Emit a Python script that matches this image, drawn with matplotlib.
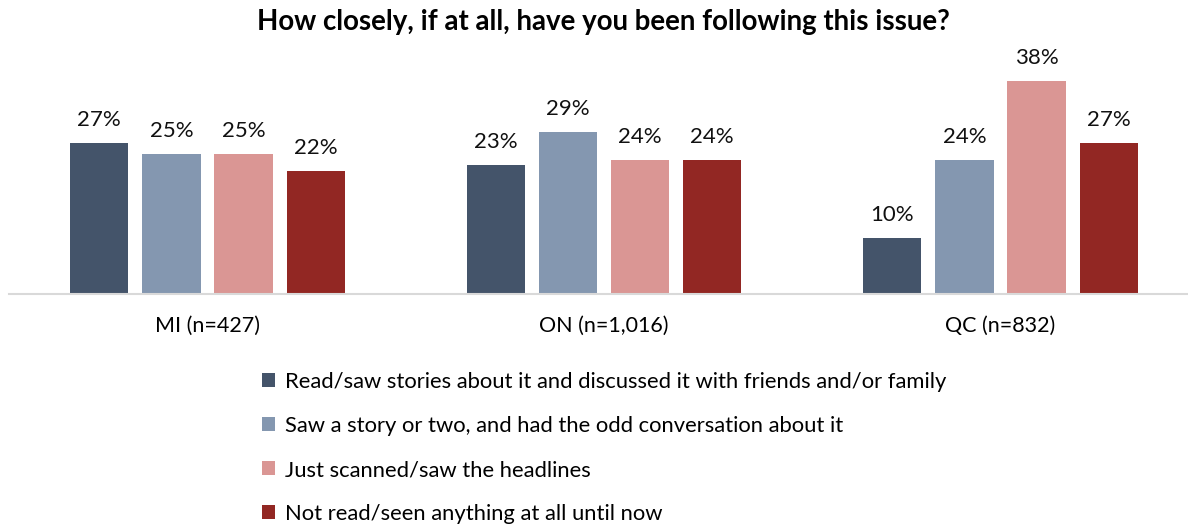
import numpy as np
import matplotlib
matplotlib.use('Agg')
import matplotlib.pyplot as plt

plt.rcParams['font.family'] = ['Lato', 'DejaVu Sans']

regions = ['MI (n=427)', 'ON (n=1,016)', 'QC (n=832)']
series_names = [
    'Read/saw stories about it and discussed it with friends and/or family',
    'Saw a story or two, and had the odd conversation about it',
    'Just scanned/saw the headlines',
    'Not read/seen anything at all until now',
]
read_discussed = [27, 23, 10]
saw_story = [25, 29, 24]
just_headlines = [25, 24, 38]
not_read = [22, 24, 27]
colors = ['#44546A', '#8497B0', '#DA9694', '#922723']

values = [read_discussed, saw_story, just_headlines, not_read]

fig = plt.figure(figsize=(11.88, 5.25), dpi=100)
ax = fig.add_axes([9.25 / 1188, 231 / 525, 1189.5 / 1188, 224 / 525])

x = np.arange(len(regions))
step = 0.182
width = 0.147
bars = []
for i, (vals, name, c) in enumerate(zip(values, series_names, colors)):
    b = ax.bar(x + (i - 1.5) * step, vals, width=width, color=c, label=name)
    bars.append(b)
    for rect, v in zip(b, vals):
        ax.text(rect.get_x() + rect.get_width() / 2, v + 2.3, f'{v}%',
                ha='center', va='bottom', fontsize=16, color='#111111')

ax.set_xlim(-0.5, 2.5)
ax.set_ylim(0, 40)
ax.set_xticks(x)
ax.set_xticklabels(regions, fontsize=15.5)
ax.tick_params(axis='x', length=0, pad=16)
ax.set_yticks([])
for s in ['top', 'left', 'right']:
    ax.spines[s].set_visible(False)
ax.spines['bottom'].set_color('#d9d9d9')
ax.spines['bottom'].set_linewidth(1.5)

fig.text(603 / 1188, 1 - 22 / 525, 'How closely, if at all, have you been following this issue?',
         ha='center', va='center', fontsize=19.9, fontweight='bold')

fig.legend(handles=bars, labels=series_names, loc='upper left',
           bbox_to_anchor=(242 / 1188, 1 - 352 / 525), frameon=False,
           fontsize=15.8, handlelength=0.6, handleheight=0.6,
           handletextpad=0.45, labelspacing=1.1)

fig.savefig('out.png', dpi=100)
